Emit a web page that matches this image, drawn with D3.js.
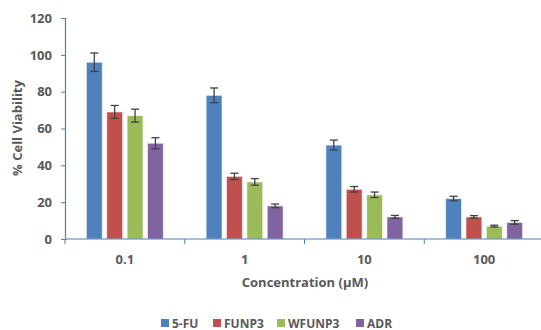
<!DOCTYPE html>
<html>
<head>
<meta charset="utf-8">
<script src="https://cdn.jsdelivr.net/npm/d3@7"></script>
<style>
  body { margin: 0; background: #fff; }
  text { font-family: "Open Sans", "Liberation Sans", sans-serif; fill: #595959; }
</style>
</head>
<body>
<div id="chart"></div>
<script>
const concentrations = ["0.1", "1", "10", "100"]
const seriesNames = ["5-FU", "FUNP3", "WFUNP3", "ADR"]
const seriesColors = ["#4F81BD", "#C0504D", "#9BBB59", "#8064A2"]
const yTicks = [0, 20, 40, 60, 80, 100, 120]

// mean viability per series, one value per concentration
const fu5 = [96, 78, 51, 22]
const funp3 = [69, 34, 27, 12]
const wfunp3 = [67, 31, 24, 7]
const adr = [52, 18, 12, 9]

// error bar half-heights
const fu5Err = [5, 4, 2.7, 1.2]
const funp3Err = [3.5, 1.7, 1.5, 0.7]
const wfunp3Err = [3.5, 1.8, 1.5, 0.5]
const adrErr = [3, 1, 0.8, 1]

const values = [fu5, funp3, wfunp3, adr]
const errors = [fu5Err, funp3Err, wfunp3Err, adrErr]

const width = 541
const height = 330
const margin = { left: 65, right: -3, top: 18, bottom: 91 }

const svg = d3.select("#chart")
    .append("svg")
    .attr("width", width)
    .attr("height", height)

const x = d3.scaleBand()
    .domain(concentrations)
    .range([margin.left, width - margin.right])

const xInner = d3.scaleBand()
    .domain(seriesNames)
    .range([0, x.bandwidth()])
    .paddingInner(0.22)
    .paddingOuter(1.05)

const y = d3.scaleLinear()
    .domain([0, 120])
    .range([height - margin.bottom, margin.top])

const axisColor = "#4A7EBB"

// bars
const groups = svg.selectAll("g.series")
    .data(seriesNames)
    .join("g")
    .attr("class", "series")

groups.each(function (name, si) {
    const g = d3.select(this)
    const rows = concentrations.map((c, ci) => ({ c, v: values[si][ci], e: errors[si][ci] }))

    g.selectAll("rect")
        .data(rows)
        .join("rect")
        .attr("x", d => x(d.c) + xInner(name))
        .attr("y", d => y(d.v))
        .attr("width", xInner.bandwidth())
        .attr("height", d => y(0) - y(d.v))
        .attr("fill", seriesColors[si])
        .attr("stroke", "#ffffff")
        .attr("stroke-opacity", 0.6)
        .attr("stroke-width", 1)

    const cx = d => x(d.c) + xInner(name) + xInner.bandwidth() / 2

    g.selectAll("line.err")
        .data(rows)
        .join("line")
        .attr("class", "err")
        .attr("x1", cx).attr("x2", cx)
        .attr("y1", d => y(d.v + d.e))
        .attr("y2", d => y(d.v - d.e))
        .attr("stroke", "#404040")
        .attr("stroke-width", 1.3)

    g.selectAll("line.capTop")
        .data(rows)
        .join("line")
        .attr("class", "capTop")
        .attr("x1", d => cx(d) - 4).attr("x2", d => cx(d) + 4)
        .attr("y1", d => y(d.v + d.e)).attr("y2", d => y(d.v + d.e))
        .attr("stroke", "#404040")
        .attr("stroke-width", 1.3)

    g.selectAll("line.capBot")
        .data(rows)
        .join("line")
        .attr("class", "capBot")
        .attr("x1", d => cx(d) - 4).attr("x2", d => cx(d) + 4)
        .attr("y1", d => y(d.v - d.e)).attr("y2", d => y(d.v - d.e))
        .attr("stroke", "#404040")
        .attr("stroke-width", 1.3)
})

// y axis
const yAxis = svg.append("g")
    .attr("transform", `translate(${margin.left},0)`)
    .call(d3.axisLeft(y).tickValues(yTicks).tickSize(4).tickPadding(9))

yAxis.select(".domain").attr("stroke", axisColor).attr("stroke-width", 1.2)
yAxis.selectAll(".tick line").attr("stroke", axisColor)
yAxis.selectAll(".tick text")
    .style("font-size", "13px")
    .style("font-weight", "bold")
    .attr("fill", "#595959")

// x axis, ticks at category boundaries
svg.append("line")
    .attr("x1", margin.left).attr("x2", width)
    .attr("y1", y(0)).attr("y2", y(0))
    .attr("stroke", axisColor).attr("stroke-width", 1.2)

svg.selectAll("line.xtick")
    .data(concentrations)
    .join("line")
    .attr("class", "xtick")
    .attr("x1", d => x(d)).attr("x2", d => x(d))
    .attr("y1", y(0)).attr("y2", y(0) + 5)
    .attr("stroke", axisColor)

svg.selectAll("text.xlabel")
    .data(concentrations)
    .join("text")
    .attr("class", "xlabel")
    .attr("x", d => x(d) + x.bandwidth() / 2)
    .attr("y", y(0) + 25)
    .attr("text-anchor", "middle")
    .style("font-size", "13px")
    .style("font-weight", "bold")
    .text(d => d)

// axis titles
svg.append("text")
    .attr("x", 305)
    .attr("y", 287)
    .attr("text-anchor", "middle")
    .style("font-size", "13px")
    .style("font-weight", "bold")
    .text("Concentration (μM)")

svg.append("text")
    .attr("transform", "translate(22,128) rotate(-90)")
    .attr("text-anchor", "middle")
    .style("font-size", "13px")
    .style("font-weight", "bold")
    .text("% Cell Viability")

// legend
const legendX = [161, 213, 277, 356]
const legend = svg.selectAll("g.legend")
    .data(seriesNames)
    .join("g")
    .attr("class", "legend")
    .attr("transform", (d, i) => `translate(${legendX[i]},319)`)

legend.append("rect")
    .attr("width", 8).attr("height", 8)
    .attr("fill", (d, i) => seriesColors[i])

legend.append("text")
    .attr("x", 11)
    .attr("y", 8.5)
    .style("font-size", "12px")
    .style("font-weight", "bold")
    .text(d => d)
</script>
</body>
</html>
